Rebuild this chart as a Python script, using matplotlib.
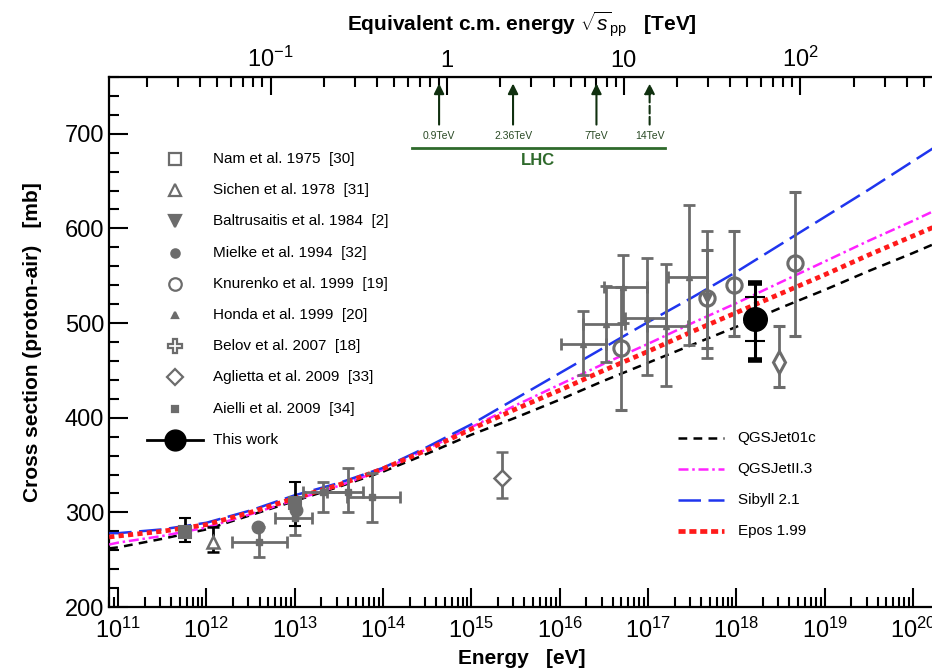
import numpy as np
import matplotlib
matplotlib.use("Agg")
import matplotlib.pyplot as plt
from matplotlib.ticker import LogLocator, NullFormatter, MultipleLocator

plt.rcParams['font.family'] = ['Liberation Sans', 'DejaVu Sans']
plt.rcParams['mathtext.fontset'] = 'custom'
plt.rcParams['mathtext.rm'] = 'Liberation Sans'
plt.rcParams['mathtext.it'] = 'Liberation Sans:italic'
plt.rcParams['mathtext.bf'] = 'Liberation Sans:bold'

M_P = 0.938e9  # proton mass [eV]

# ---- model curves: log10(E/eV) -> sigma_p-air [mb]
log_e_model = [10.9, 11.0, 11.5, 12.0, 12.5, 13.0, 13.5, 14.0, 14.5, 15.0, 15.5,
               16.0, 16.5, 17.0, 17.5, 18.0, 18.5, 19.0, 19.5, 20.0, 20.25]
qgsjet01 = [262, 263, 272, 282, 297, 312, 327, 343, 362, 382, 400,
            419, 439, 458, 477, 496, 516, 535, 555, 574, 584]
qgsjet2 = [266, 268, 275, 284, 298, 313, 328, 345, 367, 390, 413,
           435, 457, 478, 500, 521, 543, 565, 587, 608, 619]
sibyll = [278, 278, 282, 289, 302, 318, 331, 347, 369, 393, 420,
          447, 474, 501, 527, 554, 583, 612, 641, 671, 686]
epos = [274, 275, 280, 287, 300, 315, 329, 346, 366, 388, 409,
        429, 450, 470, 491, 511, 531, 551, 572, 592, 602]

# ---- measurements: log10(E), sigma, sigma low/high, log10(E) low/high
nam_le = [11.76, 13.0]
nam_s = [279, 310]
nam_lo = [269, 286]
nam_hi = [294, 332]

sichen_le = [12.08]
sichen_s = [269]
sichen_lo = [258]
sichen_hi = [285]

mielke_le = [12.59, 13.02]
mielke_s = [285, 303]

aielli_le = [12.6, 13.0, 13.32, 13.6, 13.88]
aielli_s = [269, 294, 322, 322, 316]
aielli_lo = [253, 276, 300, 300, 290]
aielli_hi = [285, 310, 332, 347, 342]
aielli_xlo = [12.29, 12.78, 13.10, 13.37, 13.59]
aielli_xhi = [12.91, 13.20, 13.60, 13.77, 14.19]

honda_le = [16.27, 16.52, 16.72, 16.99, 17.21, 17.46]
honda_s = [478, 499, 538, 505, 497, 549]
honda_lo = [445, 459, 500, 445, 433, 477]
honda_hi = [513, 539, 572, 569, 562, 625]
honda_xlo = [16.02, 16.27, 16.50, 16.74, 16.99, 17.23]
honda_xhi = [16.52, 16.74, 16.99, 17.21, 17.45, 17.67]

knur_le = [16.69, 17.67, 17.97, 18.67]
knur_s = [474, 526, 540, 563]
knur_lo = [408, 474, 486, 486]
knur_hi = [538, 577, 597, 639]

balt_le = [17.67]
balt_s = [526]
balt_lo = [463]
balt_hi = [597]

belov_le = [18.48]
belov_s = [459]
belov_lo = [432]
belov_hi = [497]

aglietta_le = [15.35]
aglietta_s = [336]
aglietta_lo = [315]
aglietta_hi = [364]

this_le = [18.21]
this_s = [504]
this_stat_lo = [481]
this_stat_hi = [528]
this_sys_lo = [461]
this_sys_hi = [542]

lhc_tev = [0.9, 2.36, 7.0, 14.0]
lhc_labels = ['0.9TeV', '2.36TeV', '7TeV', '14TeV']

GRAY = '#6c6c6c'


def e_to_tev(e):
    return np.sqrt(2 * M_P * np.asarray(e)) / 1e12


def tev_to_e(t):
    return (np.asarray(t) * 1e12) ** 2 / (2 * M_P)


def draw_points(ax, le, s, lo, hi, xlo=None, xhi=None, **kw):
    e = 10 ** np.array(le, dtype=float)
    s = np.array(s, dtype=float)
    yerr = [s - np.array(lo), np.array(hi) - s]
    xerr = None
    if xlo is not None:
        xerr = [e - 10 ** np.array(xlo), 10 ** np.array(xhi) - e]
    ax.errorbar(e, s, yerr=yerr, xerr=xerr, **kw)


fig = plt.figure(figsize=(9.32, 6.71), dpi=100)
# axes run a little past the right edge, as in the cropped original
ax = fig.add_axes([109 / 932, 64 / 671, 826 / 932, 530 / 671])

# model curves
e_model = 10 ** np.array(log_e_model)
ax.plot(e_model, qgsjet01, color='black', lw=1.8, dashes=(3.5, 2.5), zorder=3)
ax.plot(e_model, qgsjet2, color='#ff22ff', lw=1.8, dashes=(4, 1.5, 1, 1.5), zorder=3)
ax.plot(e_model, sibyll, color='#1f35ee', lw=1.8, dashes=(9, 3), zorder=3)
ax.plot(e_model, epos, color='#ff1a1a', lw=3.4, dashes=(1.1, 0.9), zorder=4)

eb = dict(ecolor=GRAY, elinewidth=2, capsize=4, capthick=2, zorder=5)

draw_points(ax, aielli_le, aielli_s, aielli_lo, aielli_hi, aielli_xlo, aielli_xhi,
            fmt='s', ms=4, color=GRAY, **eb)
draw_points(ax, nam_le, nam_s, nam_lo, nam_hi, fmt='s', ms=9, mfc=GRAY, mec=GRAY,
            mew=1.5, ecolor='black', elinewidth=2, capsize=4, capthick=2, zorder=5)
draw_points(ax, sichen_le, sichen_s, sichen_lo, sichen_hi, fmt='^', ms=9, mfc='white',
            mec=GRAY, mew=1.8, ecolor='black', elinewidth=2, capsize=4, capthick=2, zorder=5)
ax.plot(10 ** np.array(mielke_le), mielke_s, 'o', ms=9, color=GRAY, zorder=6)
draw_points(ax, honda_le, honda_s, honda_lo, honda_hi, honda_xlo, honda_xhi,
            fmt='^', ms=4, color=GRAY, **eb)
draw_points(ax, aglietta_le, aglietta_s, aglietta_lo, aglietta_hi, fmt='D', ms=8,
            mfc='white', mec=GRAY, mew=1.8, **eb)
draw_points(ax, balt_le, balt_s, balt_lo, balt_hi, fmt='v', ms=7, color=GRAY, **eb)
draw_points(ax, knur_le, knur_s, knur_lo, knur_hi, fmt='o', ms=11, mfc='none',
            mec=GRAY, mew=2.2, **eb)
draw_points(ax, belov_le, belov_s, belov_lo, belov_hi, fmt='d', ms=11, mfc='white',
            mec=GRAY, mew=2.2, **eb)

# this work: systematic + statistical
draw_points(ax, this_le, this_s, this_sys_lo, this_sys_hi, fmt='none', ecolor='black',
            elinewidth=2.2, capsize=5, capthick=4, zorder=7)
draw_points(ax, this_le, this_s, this_stat_lo, this_stat_hi, fmt='o', ms=17,
            color='black', ecolor='black', elinewidth=2.2, capsize=7, capthick=1.5, zorder=7)

# axes
ax.set_xscale('log')
ax.set_xlim(10 ** 10.898, 10 ** 20.25)
ax.set_ylim(200, 760)
ax.yaxis.set_major_locator(MultipleLocator(100))
ax.yaxis.set_minor_locator(MultipleLocator(20))
ax.xaxis.set_major_locator(LogLocator(base=10, numticks=20))
ax.xaxis.set_minor_locator(LogLocator(base=10, subs=np.arange(2, 10), numticks=100))
ax.xaxis.set_minor_formatter(NullFormatter())
ax.tick_params(which='both', direction='in', top=False, right=False, width=1.5,
               labelsize=17)
ax.tick_params(which='major', length=14)
ax.tick_params(which='minor', length=7)
ax.tick_params(axis='x', pad=8)
for sp in ax.spines.values():
    sp.set_linewidth(1.6)

ax.set_xlabel('Energy   [eV]', fontsize=15, fontweight='bold', labelpad=4)
ax.set_ylabel('Cross section (proton-air)   [mb]', fontsize=15, fontweight='bold',
              labelpad=16)

sec = ax.secondary_xaxis('top', functions=(e_to_tev, tev_to_e))
sec.set_xticks([0.1, 1, 10, 100])
sec.set_xticklabels([r'$10^{-1}$', '1', '10', r'$10^{2}$'])
sec.xaxis.set_minor_locator(LogLocator(base=10, subs=np.arange(2, 10), numticks=100))
sec.xaxis.set_minor_formatter(NullFormatter())
sec.tick_params(which='both', direction='in', width=1.5, labelsize=17)
sec.tick_params(which='major', length=13)
sec.tick_params(which='minor', length=7)
sec.set_xlabel(r'Equivalent c.m. energy $\sqrt{s}_{\rm pp}$   [TeV]', fontsize=15,
               fontweight='bold', labelpad=12)

# LHC arrows
xy_tr = ('data', 'axes fraction')
for t, lab in zip(lhc_tev, lhc_labels):
    e = float(tev_to_e(t))
    ls = '--' if t > 10 else '-'
    ax.annotate('', xy=(e, 0.993), xytext=(e, 0.905), xycoords=xy_tr,
                arrowprops=dict(arrowstyle='-|>', color='#10300f', lw=1.5,
                                linestyle=ls, mutation_scale=15))
    ax.annotate(lab, xy=(e, 0.889), xycoords=xy_tr, ha='center', va='center',
                fontsize=7.5, color='#2a4a25')
e_lo, e_hi = tev_to_e(0.63), tev_to_e(17.0)
ax.plot([e_lo, e_hi], [0.866, 0.866], transform=ax.get_xaxis_transform(),
        color='#2f6a2c', lw=2, clip_on=False)
ax.annotate('LHC', xy=(float(np.sqrt(e_lo * e_hi)), 0.842), xycoords=xy_tr,
            ha='center', va='center', fontsize=12, color='#2f6a2c', fontweight='bold')

# left legend (data)
ax_w = 826 / 823
leg_items = [
    ('Nam et al. 1975  [30]', 's', 'white', 9),
    ('Sichen et al. 1978  [31]', '^', 'white', 9),
    ('Baltrusaitis et al. 1984  [2]', 'v', GRAY, 8),
    ('Mielke et al. 1994  [32]', 'o', GRAY, 6),
    ('Knurenko et al. 1999  [19]', 'o', 'white', 9),
    ('Honda et al. 1999  [20]', '^', GRAY, 5),
    ('Belov et al. 2007  [18]', 'P', 'white', 10),
    ('Aglietta et al. 2009  [33]', 'D', 'white', 8),
    ('Aielli et al. 2009  [34]', 's', GRAY, 4),
]
for i, (lab, mk, fc, ms) in enumerate(leg_items):
    y = (607 - (159 + 31.2 * i)) / 530
    ax.plot([0.080], [y], marker=mk, ms=ms, mfc=fc, mec=GRAY, mew=1.6,
            transform=ax.transAxes, linestyle='none')
    ax.text(0.126, y, lab, transform=ax.transAxes, fontsize=11, va='center')
y = (607 - (159 + 31.2 * 9)) / 530
ax.plot([0.046, 0.114], [y, y], color='black', lw=2, transform=ax.transAxes)
ax.plot([0.080], [y], 'o', ms=15, color='black', transform=ax.transAxes)
ax.text(0.126, y, 'This work', transform=ax.transAxes, fontsize=11, va='center')

# right legend (models)
model_items = [
    ('QGSJet01c', dict(color='black', lw=1.8, dashes=(3.5, 2.5))),
    ('QGSJetII.3', dict(color='#ff22ff', lw=1.8, dashes=(4, 1.5, 1, 1.5))),
    ('Sibyll 2.1', dict(color='#1f35ee', lw=1.8, dashes=(9, 3))),
    ('Epos 1.99', dict(color='#ff1a1a', lw=3.4, dashes=(1.5, 0.8))),
]
for i, (lab, kw) in enumerate(model_items):
    y = (607 - (438 + 31 * i)) / 530
    ax.plot([0.689, 0.744], [y, y], transform=ax.transAxes, **kw)
    ax.text(0.761, y, lab, transform=ax.transAxes, fontsize=11, va='center')

fig.savefig('out.png', dpi=100)
